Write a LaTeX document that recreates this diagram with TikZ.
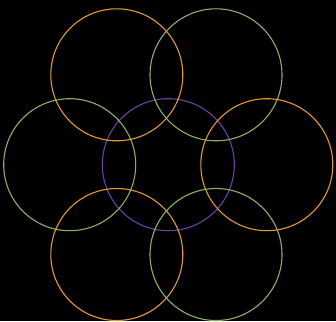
\documentclass[tikz,border=0pt]{standalone}
\usepackage{tikz}
\definecolor{ringorange}{HTML}{E39A32}
\definecolor{ringgreen}{HTML}{8DB062}
\definecolor{ringpurple}{HTML}{6E40A6}

\begin{document}
\begin{tikzpicture}[x=1pt,y=-1pt]
\def\radius{66}

% Background
\fill[black] (0,0) rectangle (336,321);
\useasboundingbox (0,0) rectangle (336,321);

% Centre ring
\draw[ringpurple, line width=1.1pt] (168.3,164.7) circle (\radius pt);

% Outer rings
\foreach \cx/\cy/\col in {116.8/74.8/ringorange, 216/74.8/ringgreen,
                          69.7/164.7/ringgreen, 266.8/164.7/ringorange,
                          116.8/254.5/ringorange, 216/254.5/ringgreen} {
    \draw[\col, line width=1.1pt] (\cx,\cy) circle (\radius pt);
}
\end{tikzpicture}
\end{document}
